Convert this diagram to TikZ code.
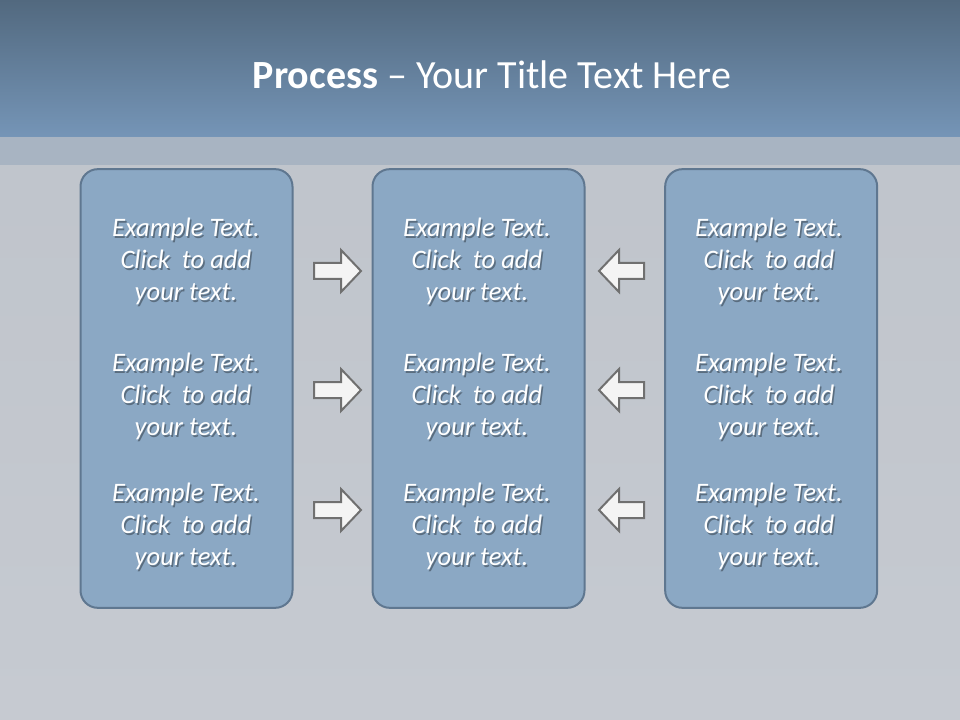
\documentclass[tikz,border=0pt]{standalone}
\usepackage{fontspec}
\setmainfont{Carlito}
\usepackage{xcolor}
\usetikzlibrary{positioning}
\definecolor{titleTop}{HTML}{52697F}
\definecolor{titleBot}{HTML}{7595B7}
\definecolor{stripBlue}{HTML}{A8B4C2}
\definecolor{slideTop}{HTML}{BEC3CA}
\definecolor{slideBot}{HTML}{C6CAD1}
\definecolor{boxFill}{HTML}{8BA8C4}
\definecolor{boxLine}{HTML}{5F7790}
\definecolor{arrowLine}{HTML}{707070}
\definecolor{arrowFill}{HTML}{F4F4F4}
\newcommand{\sampletext}{Example Text.\\Click\ \ to add\\your text.}

\begin{document}
\begin{tikzpicture}[x=0.75pt, y=-0.75pt,
  panel/.style={draw=boxLine, line width=1.5pt, fill=boxFill, rounded corners=13pt,
    minimum width=159pt, minimum height=329pt, inner sep=0pt},
  txt/.style={align=center, text=white, font=\fontsize{20}{24}\selectfont\itshape, inner sep=0pt},
  txtshade/.style={txt, text=black, opacity=0.35},
  blockarrow/.style={draw=arrowLine, fill=arrowFill, line width=1.5pt, line join=miter}]
% slide background
\fill[top color=slideTop, bottom color=slideBot] (0,0) rectangle (960,720);
\fill[stripBlue] (0,137) rectangle (960,165);
\fill[top color=titleTop, bottom color=titleBot] (0,0) rectangle (960,137);
\node[text=white, font=\fontsize{30}{36}\selectfont] (title) at (492,75)
  {\textbf{Process} -- Your Title Text Here};
% three panels
\node[panel] (L) at (186.5,388.5) {};
\node[panel, right=58.5pt of L] (M) {};
\node[panel, right=59pt of M] (R) {};
% texts with soft shadow
\foreach \cx/\col in {186/L,477/M,769/R}{
  \foreach \cy/\row in {261/1,396/2,526/3}{
    \node[txtshade] at (\cx+1.5,\cy+2) {\sampletext};
    \node[txt] (\col\row) at (\cx,\cy) {\sampletext};
  }
}
% arrows into the middle panel
\foreach \ay in {271,390,510}{
  \draw[blockarrow] (314,\ay-8) -- (341,\ay-8) -- (341,\ay-21) -- (361,\ay)
    -- (341,\ay+21) -- (341,\ay+8) -- (314,\ay+8) -- cycle;
  \draw[blockarrow] (644,\ay-8) -- (619,\ay-8) -- (619,\ay-21) -- (599,\ay)
    -- (619,\ay+21) -- (619,\ay+8) -- (644,\ay+8) -- cycle;
}
\end{tikzpicture}
\end{document}
